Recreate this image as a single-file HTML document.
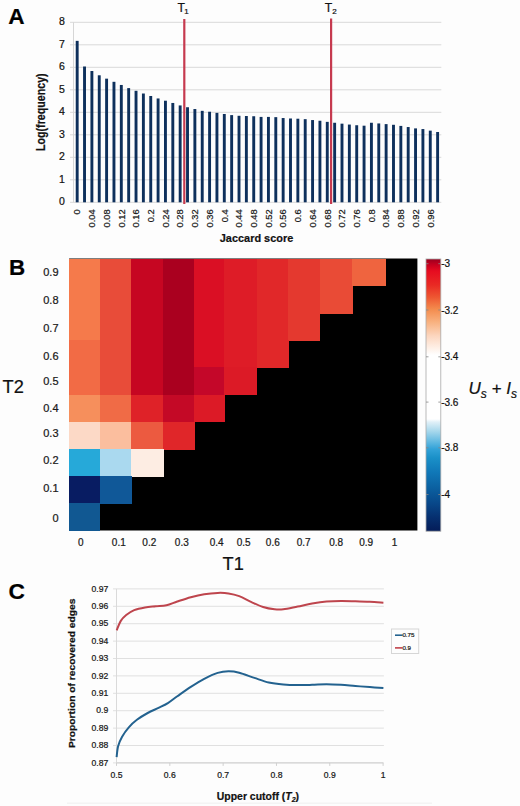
<!DOCTYPE html><html><head><meta charset="utf-8"><style>html,body{margin:0;padding:0;background:#fdfdfd;}svg{display:block;}text{font-family:"Liberation Sans",sans-serif;stroke:#111;stroke-width:0.22px;}</style></head><body>
<svg width="520" height="806" viewBox="0 0 520 806">
<rect width="520" height="806" fill="#fdfdfd"/>
<text x="8.2" y="24.4" font-size="22.6" font-weight="bold" fill="#000" stroke="none">A</text>
<line x1="70" y1="202.30" x2="441.30" y2="202.30" stroke="#d9d9d9" stroke-width="1"/>
<text x="64.8" y="205.10" font-size="10.5" text-anchor="end" fill="#111">0</text>
<line x1="70" y1="179.80" x2="441.30" y2="179.80" stroke="#d9d9d9" stroke-width="1"/>
<text x="64.8" y="182.60" font-size="10.5" text-anchor="end" fill="#111">1</text>
<line x1="70" y1="157.30" x2="441.30" y2="157.30" stroke="#d9d9d9" stroke-width="1"/>
<text x="64.8" y="160.10" font-size="10.5" text-anchor="end" fill="#111">2</text>
<line x1="70" y1="134.80" x2="441.30" y2="134.80" stroke="#d9d9d9" stroke-width="1"/>
<text x="64.8" y="137.60" font-size="10.5" text-anchor="end" fill="#111">3</text>
<line x1="70" y1="112.30" x2="441.30" y2="112.30" stroke="#d9d9d9" stroke-width="1"/>
<text x="64.8" y="115.10" font-size="10.5" text-anchor="end" fill="#111">4</text>
<line x1="70" y1="89.80" x2="441.30" y2="89.80" stroke="#d9d9d9" stroke-width="1"/>
<text x="64.8" y="92.60" font-size="10.5" text-anchor="end" fill="#111">5</text>
<line x1="70" y1="67.30" x2="441.30" y2="67.30" stroke="#d9d9d9" stroke-width="1"/>
<text x="64.8" y="70.10" font-size="10.5" text-anchor="end" fill="#111">6</text>
<line x1="70" y1="44.80" x2="441.30" y2="44.80" stroke="#d9d9d9" stroke-width="1"/>
<text x="64.8" y="47.60" font-size="10.5" text-anchor="end" fill="#111">7</text>
<line x1="70" y1="22.30" x2="441.30" y2="22.30" stroke="#d9d9d9" stroke-width="1"/>
<text x="64.8" y="25.10" font-size="10.5" text-anchor="end" fill="#111">8</text>
<line x1="73.50" y1="22.30" x2="73.50" y2="202.30" stroke="#d6d6d6" stroke-width="1"/>
<rect x="75.73" y="40.86" width="2.9" height="161.44" fill="#0e305c"/>
<rect x="83.08" y="66.51" width="2.9" height="135.79" fill="#0e305c"/>
<rect x="90.44" y="71.01" width="2.9" height="131.29" fill="#0e305c"/>
<rect x="97.80" y="75.29" width="2.9" height="127.01" fill="#0e305c"/>
<rect x="105.15" y="78.66" width="2.9" height="123.64" fill="#0e305c"/>
<rect x="112.51" y="81.81" width="2.9" height="120.49" fill="#0e305c"/>
<rect x="119.86" y="84.96" width="2.9" height="117.34" fill="#0e305c"/>
<rect x="127.22" y="88.11" width="2.9" height="114.19" fill="#0e305c"/>
<rect x="134.58" y="90.81" width="2.9" height="111.49" fill="#0e305c"/>
<rect x="141.93" y="93.51" width="2.9" height="108.79" fill="#0e305c"/>
<rect x="149.29" y="95.99" width="2.9" height="106.31" fill="#0e305c"/>
<rect x="156.64" y="98.46" width="2.9" height="103.84" fill="#0e305c"/>
<rect x="164.00" y="100.71" width="2.9" height="101.59" fill="#0e305c"/>
<rect x="171.36" y="102.96" width="2.9" height="99.34" fill="#0e305c"/>
<rect x="178.71" y="105.44" width="2.9" height="96.86" fill="#0e305c"/>
<rect x="186.07" y="107.24" width="2.9" height="95.06" fill="#0e305c"/>
<rect x="193.42" y="109.04" width="2.9" height="93.26" fill="#0e305c"/>
<rect x="200.78" y="110.84" width="2.9" height="91.46" fill="#0e305c"/>
<rect x="208.14" y="111.74" width="2.9" height="90.56" fill="#0e305c"/>
<rect x="215.49" y="112.86" width="2.9" height="89.44" fill="#0e305c"/>
<rect x="222.85" y="113.99" width="2.9" height="88.31" fill="#0e305c"/>
<rect x="230.20" y="115.11" width="2.9" height="87.19" fill="#0e305c"/>
<rect x="237.56" y="115.79" width="2.9" height="86.51" fill="#0e305c"/>
<rect x="244.92" y="116.01" width="2.9" height="86.29" fill="#0e305c"/>
<rect x="252.27" y="116.24" width="2.9" height="86.06" fill="#0e305c"/>
<rect x="259.63" y="116.91" width="2.9" height="85.39" fill="#0e305c"/>
<rect x="266.98" y="116.91" width="2.9" height="85.39" fill="#0e305c"/>
<rect x="274.34" y="117.14" width="2.9" height="85.16" fill="#0e305c"/>
<rect x="281.70" y="118.04" width="2.9" height="84.26" fill="#0e305c"/>
<rect x="289.05" y="118.49" width="2.9" height="83.81" fill="#0e305c"/>
<rect x="296.41" y="118.71" width="2.9" height="83.59" fill="#0e305c"/>
<rect x="303.76" y="119.16" width="2.9" height="83.14" fill="#0e305c"/>
<rect x="311.12" y="120.06" width="2.9" height="82.24" fill="#0e305c"/>
<rect x="318.48" y="120.74" width="2.9" height="81.56" fill="#0e305c"/>
<rect x="325.83" y="121.86" width="2.9" height="80.44" fill="#0e305c"/>
<rect x="333.19" y="122.76" width="2.9" height="79.54" fill="#0e305c"/>
<rect x="340.54" y="123.66" width="2.9" height="78.64" fill="#0e305c"/>
<rect x="347.90" y="124.56" width="2.9" height="77.74" fill="#0e305c"/>
<rect x="355.26" y="125.24" width="2.9" height="77.06" fill="#0e305c"/>
<rect x="362.61" y="125.69" width="2.9" height="76.61" fill="#0e305c"/>
<rect x="369.97" y="122.76" width="2.9" height="79.54" fill="#0e305c"/>
<rect x="377.32" y="123.44" width="2.9" height="78.86" fill="#0e305c"/>
<rect x="384.68" y="124.11" width="2.9" height="78.19" fill="#0e305c"/>
<rect x="392.04" y="124.79" width="2.9" height="77.51" fill="#0e305c"/>
<rect x="399.39" y="125.91" width="2.9" height="76.39" fill="#0e305c"/>
<rect x="406.75" y="127.04" width="2.9" height="75.26" fill="#0e305c"/>
<rect x="414.10" y="128.39" width="2.9" height="73.91" fill="#0e305c"/>
<rect x="421.46" y="129.06" width="2.9" height="73.24" fill="#0e305c"/>
<rect x="428.82" y="130.64" width="2.9" height="71.66" fill="#0e305c"/>
<rect x="436.17" y="131.99" width="2.9" height="70.31" fill="#0e305c"/>
<rect x="183.2" y="19" width="2.2" height="185" fill="#c63a4f"/>
<rect x="330.0" y="18.5" width="2.2" height="185.5" fill="#c63a4f"/>
<text x="177.5" y="11.6" font-size="12.2" fill="#111">T<tspan font-size="8" dx="-0.7" dy="2.6">1</tspan></text>
<text x="324.8" y="11.6" font-size="12.2" fill="#111">T<tspan font-size="8" dy="2.6">2</tspan></text>
<text transform="translate(80.48,209.4) rotate(-90)" font-size="9.3" text-anchor="end" fill="#222">0</text>
<text transform="translate(95.19,209.4) rotate(-90)" font-size="9.3" text-anchor="end" fill="#222">0.04</text>
<text transform="translate(109.90,209.4) rotate(-90)" font-size="9.3" text-anchor="end" fill="#222">0.08</text>
<text transform="translate(124.61,209.4) rotate(-90)" font-size="9.3" text-anchor="end" fill="#222">0.12</text>
<text transform="translate(139.33,209.4) rotate(-90)" font-size="9.3" text-anchor="end" fill="#222">0.16</text>
<text transform="translate(154.04,209.4) rotate(-90)" font-size="9.3" text-anchor="end" fill="#222">0.2</text>
<text transform="translate(168.75,209.4) rotate(-90)" font-size="9.3" text-anchor="end" fill="#222">0.24</text>
<text transform="translate(183.46,209.4) rotate(-90)" font-size="9.3" text-anchor="end" fill="#222">0.28</text>
<text transform="translate(198.17,209.4) rotate(-90)" font-size="9.3" text-anchor="end" fill="#222">0.32</text>
<text transform="translate(212.89,209.4) rotate(-90)" font-size="9.3" text-anchor="end" fill="#222">0.36</text>
<text transform="translate(227.60,209.4) rotate(-90)" font-size="9.3" text-anchor="end" fill="#222">0.4</text>
<text transform="translate(242.31,209.4) rotate(-90)" font-size="9.3" text-anchor="end" fill="#222">0.44</text>
<text transform="translate(257.02,209.4) rotate(-90)" font-size="9.3" text-anchor="end" fill="#222">0.48</text>
<text transform="translate(271.73,209.4) rotate(-90)" font-size="9.3" text-anchor="end" fill="#222">0.52</text>
<text transform="translate(286.45,209.4) rotate(-90)" font-size="9.3" text-anchor="end" fill="#222">0.56</text>
<text transform="translate(301.16,209.4) rotate(-90)" font-size="9.3" text-anchor="end" fill="#222">0.6</text>
<text transform="translate(315.87,209.4) rotate(-90)" font-size="9.3" text-anchor="end" fill="#222">0.64</text>
<text transform="translate(330.58,209.4) rotate(-90)" font-size="9.3" text-anchor="end" fill="#222">0.68</text>
<text transform="translate(345.29,209.4) rotate(-90)" font-size="9.3" text-anchor="end" fill="#222">0.72</text>
<text transform="translate(360.01,209.4) rotate(-90)" font-size="9.3" text-anchor="end" fill="#222">0.76</text>
<text transform="translate(374.72,209.4) rotate(-90)" font-size="9.3" text-anchor="end" fill="#222">0.8</text>
<text transform="translate(389.43,209.4) rotate(-90)" font-size="9.3" text-anchor="end" fill="#222">0.84</text>
<text transform="translate(404.14,209.4) rotate(-90)" font-size="9.3" text-anchor="end" fill="#222">0.88</text>
<text transform="translate(418.85,209.4) rotate(-90)" font-size="9.3" text-anchor="end" fill="#222">0.92</text>
<text transform="translate(433.57,209.4) rotate(-90)" font-size="9.3" text-anchor="end" fill="#222">0.96</text>
<text transform="translate(219.8,242.2) scale(0.95,1)" font-size="11.5" font-weight="bold" fill="#111">Jaccard score</text>
<text transform="translate(45.0,112.2) rotate(-90) scale(0.89,1)" font-size="12" font-weight="bold" text-anchor="middle" fill="#111">Log(frequency)</text>
<text x="8.9" y="275.4" font-size="22.4" font-weight="bold" fill="#000" stroke="none">B</text>
<rect x="69.10" y="258.50" width="348.30" height="272.00" fill="#000"/>
<g shape-rendering="crispEdges">
<rect x="69.10" y="258.50" width="31.00" height="27.80" fill="#f57a4b"/>
<rect x="99.50" y="258.50" width="32.30" height="27.80" fill="#e84c39"/>
<rect x="131.20" y="258.50" width="32.60" height="27.80" fill="#c60622"/>
<rect x="163.20" y="258.50" width="31.60" height="27.80" fill="#aa001f"/>
<rect x="194.20" y="258.50" width="30.80" height="27.80" fill="#da0f24"/>
<rect x="224.40" y="258.50" width="32.80" height="27.80" fill="#de1c27"/>
<rect x="256.60" y="258.50" width="32.20" height="27.80" fill="#e12829"/>
<rect x="288.20" y="258.50" width="32.10" height="27.80" fill="#e4392f"/>
<rect x="319.70" y="258.50" width="32.80" height="27.80" fill="#e94b36"/>
<rect x="351.90" y="258.50" width="34.40" height="27.80" fill="#ef643f"/>
<rect x="69.10" y="285.70" width="31.00" height="27.80" fill="#f57a4b"/>
<rect x="99.50" y="285.70" width="32.30" height="27.80" fill="#e84c39"/>
<rect x="131.20" y="285.70" width="32.60" height="27.80" fill="#c60622"/>
<rect x="163.20" y="285.70" width="31.60" height="27.80" fill="#aa001f"/>
<rect x="194.20" y="285.70" width="30.80" height="27.80" fill="#da0f24"/>
<rect x="224.40" y="285.70" width="32.80" height="27.80" fill="#de1c27"/>
<rect x="256.60" y="285.70" width="32.20" height="27.80" fill="#e12829"/>
<rect x="288.20" y="285.70" width="32.10" height="27.80" fill="#e4392f"/>
<rect x="319.70" y="285.70" width="32.80" height="27.80" fill="#e94b36"/>
<rect x="69.10" y="312.90" width="31.00" height="27.80" fill="#f57a4b"/>
<rect x="99.50" y="312.90" width="32.30" height="27.80" fill="#e84c39"/>
<rect x="131.20" y="312.90" width="32.60" height="27.80" fill="#c60622"/>
<rect x="163.20" y="312.90" width="31.60" height="27.80" fill="#aa001f"/>
<rect x="194.20" y="312.90" width="30.80" height="27.80" fill="#da0f24"/>
<rect x="224.40" y="312.90" width="32.80" height="27.80" fill="#de1c27"/>
<rect x="256.60" y="312.90" width="32.20" height="27.80" fill="#e12829"/>
<rect x="288.20" y="312.90" width="32.10" height="27.80" fill="#e4392f"/>
<rect x="69.10" y="340.10" width="31.00" height="27.80" fill="#f26b45"/>
<rect x="99.50" y="340.10" width="32.30" height="27.80" fill="#e84c39"/>
<rect x="131.20" y="340.10" width="32.60" height="27.80" fill="#c60622"/>
<rect x="163.20" y="340.10" width="31.60" height="27.80" fill="#aa001f"/>
<rect x="194.20" y="340.10" width="30.80" height="27.80" fill="#da0f24"/>
<rect x="224.40" y="340.10" width="32.80" height="27.80" fill="#de1c27"/>
<rect x="256.60" y="340.10" width="32.20" height="27.80" fill="#e12829"/>
<rect x="69.10" y="367.30" width="31.00" height="27.80" fill="#f26b45"/>
<rect x="99.50" y="367.30" width="32.30" height="27.80" fill="#e84c39"/>
<rect x="131.20" y="367.30" width="32.60" height="27.80" fill="#c60622"/>
<rect x="163.20" y="367.30" width="31.60" height="27.80" fill="#aa001f"/>
<rect x="194.20" y="367.30" width="30.80" height="27.80" fill="#c40729"/>
<rect x="224.40" y="367.30" width="32.80" height="27.80" fill="#dc1a26"/>
<rect x="69.10" y="394.50" width="31.00" height="27.80" fill="#f68f5c"/>
<rect x="99.50" y="394.50" width="32.30" height="27.80" fill="#f06b46"/>
<rect x="131.20" y="394.50" width="32.60" height="27.80" fill="#df2228"/>
<rect x="163.20" y="394.50" width="31.60" height="27.80" fill="#c40926"/>
<rect x="194.20" y="394.50" width="30.80" height="27.80" fill="#dc1a26"/>
<rect x="69.10" y="421.70" width="31.00" height="27.80" fill="#fcd9c6"/>
<rect x="99.50" y="421.70" width="32.30" height="27.80" fill="#fbbe9e"/>
<rect x="131.20" y="421.70" width="32.60" height="27.80" fill="#ec5a40"/>
<rect x="163.20" y="421.70" width="31.60" height="27.80" fill="#e02629"/>
<rect x="69.10" y="448.90" width="31.00" height="27.80" fill="#26a9d9"/>
<rect x="99.50" y="448.90" width="32.30" height="27.80" fill="#aad9ef"/>
<rect x="131.20" y="448.90" width="32.60" height="27.80" fill="#fdede3"/>
<rect x="69.10" y="476.10" width="31.00" height="27.80" fill="#081c62"/>
<rect x="99.50" y="476.10" width="32.30" height="27.80" fill="#105898"/>
<rect x="69.10" y="503.30" width="31.00" height="27.80" fill="#115892"/>
</g>
<text x="58.5" y="275.70" font-size="11" text-anchor="end" fill="#222">0.9</text>
<text x="58.5" y="304.20" font-size="11" text-anchor="end" fill="#222">0.8</text>
<text x="58.5" y="331.80" font-size="11" text-anchor="end" fill="#222">0.7</text>
<text x="58.5" y="360.00" font-size="11" text-anchor="end" fill="#222">0.6</text>
<text x="58.5" y="384.80" font-size="11" text-anchor="end" fill="#222">0.5</text>
<text x="58.5" y="411.70" font-size="11" text-anchor="end" fill="#222">0.4</text>
<text x="58.5" y="436.90" font-size="11" text-anchor="end" fill="#222">0.3</text>
<text x="58.5" y="463.50" font-size="11" text-anchor="end" fill="#222">0.2</text>
<text x="58.5" y="491.70" font-size="11" text-anchor="end" fill="#222">0.1</text>
<text x="58.5" y="522.10" font-size="11" text-anchor="end" fill="#222">0</text>
<text transform="translate(2.6,392.9) scale(0.95,1)" font-size="19.2" fill="#111">T2</text>
<text x="80.80" y="545.8" font-size="10" text-anchor="middle" fill="#222">0</text>
<text x="118.80" y="545.8" font-size="10" text-anchor="middle" fill="#222">0.1</text>
<text x="149.30" y="545.8" font-size="10" text-anchor="middle" fill="#222">0.2</text>
<text x="181.80" y="545.8" font-size="10" text-anchor="middle" fill="#222">0.3</text>
<text x="216.70" y="545.8" font-size="10" text-anchor="middle" fill="#222">0.4</text>
<text x="243.60" y="545.8" font-size="10" text-anchor="middle" fill="#222">0.5</text>
<text x="272.80" y="545.8" font-size="10" text-anchor="middle" fill="#222">0.6</text>
<text x="303.60" y="545.8" font-size="10" text-anchor="middle" fill="#222">0.7</text>
<text x="336.20" y="545.8" font-size="10" text-anchor="middle" fill="#222">0.8</text>
<text x="366.20" y="545.8" font-size="10" text-anchor="middle" fill="#222">0.9</text>
<text x="394.60" y="545.8" font-size="10" text-anchor="middle" fill="#222">1</text>
<text transform="translate(222.6,570.3) scale(0.95,1)" font-size="19.2" fill="#111">T1</text>
<defs><linearGradient id="cb" x1="0" y1="0" x2="0" y2="1">
<stop offset="0.0000" stop-color="#9a001f"/>
<stop offset="0.0220" stop-color="#c8001f"/>
<stop offset="0.0441" stop-color="#e60c20"/>
<stop offset="0.0955" stop-color="#e92a24"/>
<stop offset="0.1396" stop-color="#ee5631"/>
<stop offset="0.1837" stop-color="#f38b4d"/>
<stop offset="0.2314" stop-color="#f8b17f"/>
<stop offset="0.2829" stop-color="#fcd6bf"/>
<stop offset="0.3270" stop-color="#fef0e7"/>
<stop offset="0.3527" stop-color="#ffffff"/>
<stop offset="0.5878" stop-color="#ffffff"/>
<stop offset="0.5988" stop-color="#e0f0f8"/>
<stop offset="0.6319" stop-color="#a8d8ec"/>
<stop offset="0.6712" stop-color="#62b9e1"/>
<stop offset="0.6980" stop-color="#32a2d8"/>
<stop offset="0.7311" stop-color="#1a90c8"/>
<stop offset="0.7825" stop-color="#1078b8"/>
<stop offset="0.8413" stop-color="#0b60a0"/>
<stop offset="0.8964" stop-color="#08488a"/>
<stop offset="0.9478" stop-color="#063070"/>
<stop offset="1.0000" stop-color="#041c58"/>
</linearGradient></defs>
<rect x="426" y="259" width="14.8" height="272.2" fill="url(#cb)"/>
<rect x="426" y="259" width="14.8" height="272.2" fill="none" stroke="#a8a8a8" stroke-width="0.8"/>
<text x="441.2" y="267.20" font-size="10" fill="#111" stroke="#111" stroke-width="0.2">-3</text>
<line x1="426" y1="263.70" x2="428.5" y2="263.70" stroke="#888" stroke-width="0.8"/>
<line x1="438.3" y1="263.70" x2="440.8" y2="263.70" stroke="#888" stroke-width="0.8"/>
<text x="441.2" y="313.50" font-size="10" fill="#111" stroke="#111" stroke-width="0.2">-3.2</text>
<line x1="426" y1="310.00" x2="428.5" y2="310.00" stroke="#888" stroke-width="0.8"/>
<line x1="438.3" y1="310.00" x2="440.8" y2="310.00" stroke="#888" stroke-width="0.8"/>
<text x="441.2" y="360.30" font-size="10" fill="#111" stroke="#111" stroke-width="0.2">-3.4</text>
<line x1="426" y1="356.80" x2="428.5" y2="356.80" stroke="#888" stroke-width="0.8"/>
<line x1="438.3" y1="356.80" x2="440.8" y2="356.80" stroke="#888" stroke-width="0.8"/>
<text x="441.2" y="405.60" font-size="10" fill="#111" stroke="#111" stroke-width="0.2">-3.6</text>
<line x1="426" y1="402.10" x2="428.5" y2="402.10" stroke="#888" stroke-width="0.8"/>
<line x1="438.3" y1="402.10" x2="440.8" y2="402.10" stroke="#888" stroke-width="0.8"/>
<text x="441.2" y="451.30" font-size="10" fill="#111" stroke="#111" stroke-width="0.2">-3.8</text>
<line x1="426" y1="447.80" x2="428.5" y2="447.80" stroke="#888" stroke-width="0.8"/>
<line x1="438.3" y1="447.80" x2="440.8" y2="447.80" stroke="#888" stroke-width="0.8"/>
<text x="441.2" y="498.00" font-size="10" fill="#111" stroke="#111" stroke-width="0.2">-4</text>
<line x1="426" y1="494.50" x2="428.5" y2="494.50" stroke="#888" stroke-width="0.8"/>
<line x1="438.3" y1="494.50" x2="440.8" y2="494.50" stroke="#888" stroke-width="0.8"/>
<text x="468.5" y="393.8" font-size="17" font-style="italic" fill="#111">U<tspan font-size="12" dy="4.5">s</tspan><tspan dy="-4.5"> + I</tspan><tspan font-size="12" dy="4.5">s</tspan></text>
<text x="8.4" y="599.4" font-size="22.8" font-weight="bold" fill="#000" stroke="none">C</text>
<line x1="113" y1="762.90" x2="383.90" y2="762.90" stroke="#e0e0e0" stroke-width="1"/>
<text x="108.3" y="765.50" font-size="8.6" text-anchor="end" fill="#222">0.87</text>
<line x1="113" y1="745.50" x2="383.90" y2="745.50" stroke="#e0e0e0" stroke-width="1"/>
<text x="108.3" y="748.10" font-size="8.6" text-anchor="end" fill="#222">0.88</text>
<line x1="113" y1="728.10" x2="383.90" y2="728.10" stroke="#e0e0e0" stroke-width="1"/>
<text x="108.3" y="730.70" font-size="8.6" text-anchor="end" fill="#222">0.89</text>
<line x1="113" y1="710.70" x2="383.90" y2="710.70" stroke="#e0e0e0" stroke-width="1"/>
<text x="108.3" y="713.30" font-size="8.6" text-anchor="end" fill="#222">0.9</text>
<line x1="113" y1="693.30" x2="383.90" y2="693.30" stroke="#e0e0e0" stroke-width="1"/>
<text x="108.3" y="695.90" font-size="8.6" text-anchor="end" fill="#222">0.91</text>
<line x1="113" y1="675.90" x2="383.90" y2="675.90" stroke="#e0e0e0" stroke-width="1"/>
<text x="108.3" y="678.50" font-size="8.6" text-anchor="end" fill="#222">0.92</text>
<line x1="113" y1="658.50" x2="383.90" y2="658.50" stroke="#e0e0e0" stroke-width="1"/>
<text x="108.3" y="661.10" font-size="8.6" text-anchor="end" fill="#222">0.93</text>
<line x1="113" y1="641.10" x2="383.90" y2="641.10" stroke="#e0e0e0" stroke-width="1"/>
<text x="108.3" y="643.70" font-size="8.6" text-anchor="end" fill="#222">0.94</text>
<line x1="113" y1="623.70" x2="383.90" y2="623.70" stroke="#e0e0e0" stroke-width="1"/>
<text x="108.3" y="626.30" font-size="8.6" text-anchor="end" fill="#222">0.95</text>
<line x1="113" y1="606.30" x2="383.90" y2="606.30" stroke="#e0e0e0" stroke-width="1"/>
<text x="108.3" y="608.90" font-size="8.6" text-anchor="end" fill="#222">0.96</text>
<line x1="113" y1="588.90" x2="383.90" y2="588.90" stroke="#e0e0e0" stroke-width="1"/>
<text x="108.3" y="591.50" font-size="8.6" text-anchor="end" fill="#222">0.97</text>
<line x1="116.50" y1="588.90" x2="116.50" y2="762.90" stroke="#dadada" stroke-width="1"/>
<line x1="116.50" y1="762.90" x2="383.10" y2="762.90" stroke="#d0d0d0" stroke-width="1"/>
<line x1="116.50" y1="762.90" x2="116.50" y2="765.90" stroke="#d0d0d0" stroke-width="1"/>
<text x="116.50" y="778" font-size="8.6" text-anchor="middle" fill="#222">0.5</text>
<line x1="169.82" y1="762.90" x2="169.82" y2="765.90" stroke="#d0d0d0" stroke-width="1"/>
<text x="169.82" y="778" font-size="8.6" text-anchor="middle" fill="#222">0.6</text>
<line x1="223.14" y1="762.90" x2="223.14" y2="765.90" stroke="#d0d0d0" stroke-width="1"/>
<text x="223.14" y="778" font-size="8.6" text-anchor="middle" fill="#222">0.7</text>
<line x1="276.46" y1="762.90" x2="276.46" y2="765.90" stroke="#d0d0d0" stroke-width="1"/>
<text x="276.46" y="778" font-size="8.6" text-anchor="middle" fill="#222">0.8</text>
<line x1="329.78" y1="762.90" x2="329.78" y2="765.90" stroke="#d0d0d0" stroke-width="1"/>
<text x="329.78" y="778" font-size="8.6" text-anchor="middle" fill="#222">0.9</text>
<line x1="383.10" y1="762.90" x2="383.10" y2="765.90" stroke="#d0d0d0" stroke-width="1"/>
<text x="383.10" y="778" font-size="8.6" text-anchor="middle" fill="#222">1</text>
<path d="M116.70,629.80 C117.38,628.23 119.22,622.95 120.80,620.40 C122.38,617.85 123.97,616.30 126.20,614.50 C128.43,612.70 131.07,610.87 134.20,609.60 C137.33,608.33 141.40,607.53 145.00,606.90 C148.60,606.27 152.22,606.15 155.80,605.80 C159.38,605.45 162.92,605.60 166.50,604.80 C170.08,604.00 173.25,602.35 177.30,601.00 C181.35,599.65 186.32,597.92 190.80,596.70 C195.28,595.48 199.72,594.42 204.20,593.70 C208.68,592.98 213.65,592.53 217.70,592.40 C221.75,592.27 224.92,592.37 228.50,592.90 C232.08,593.43 235.37,594.15 239.20,595.60 C243.03,597.05 247.52,599.78 251.50,601.60 C255.48,603.42 259.25,605.30 263.10,606.50 C266.95,607.70 271.23,608.42 274.60,608.80 C277.97,609.18 279.45,609.27 283.30,608.80 C287.15,608.33 292.90,606.95 297.70,606.00 C302.50,605.05 307.30,603.92 312.10,603.10 C316.90,602.28 321.68,601.53 326.50,601.10 C331.32,600.67 336.18,600.55 341.00,600.50 C345.82,600.45 350.60,600.67 355.40,600.80 C360.20,600.93 365.13,601.07 369.80,601.30 C374.47,601.53 381.13,602.05 383.40,602.20" fill="none" stroke="#be454d" stroke-width="2" transform="translate(0,0.5)"/>
<path d="M116.60,757.20 C116.85,755.37 117.18,749.62 118.10,746.20 C119.02,742.78 120.32,739.85 122.10,736.70 C123.88,733.55 126.33,730.12 128.80,727.30 C131.27,724.48 133.75,722.18 136.90,719.80 C140.05,717.42 144.10,714.98 147.70,713.00 C151.30,711.02 155.13,709.55 158.50,707.90 C161.87,706.25 164.77,705.03 167.90,703.10 C171.03,701.17 173.48,699.00 177.30,696.30 C181.12,693.60 186.32,689.82 190.80,686.90 C195.28,683.98 199.72,681.13 204.20,678.80 C208.68,676.47 213.65,674.15 217.70,672.90 C221.75,671.65 224.92,671.33 228.50,671.30 C232.08,671.27 234.88,671.60 239.20,672.70 C243.52,673.80 249.47,676.27 254.40,677.90 C259.33,679.53 263.98,681.40 268.80,682.50 C273.62,683.60 278.48,684.07 283.30,684.50 C288.12,684.93 292.90,685.05 297.70,685.10 C302.50,685.15 307.30,684.95 312.10,684.80 C316.90,684.65 321.68,684.20 326.50,684.20 C331.32,684.20 336.18,684.50 341.00,684.80 C345.82,685.10 350.60,685.62 355.40,686.00 C360.20,686.38 365.13,686.77 369.80,687.10 C374.47,687.43 381.13,687.85 383.40,688.00" fill="none" stroke="#23628f" stroke-width="2"/>
<text transform="translate(75.3,673.3) rotate(-90) scale(1.07,1)" font-size="9.6" font-weight="bold" text-anchor="middle" fill="#111">Proportion of recovered edges</text>
<text transform="translate(216.8,799.6) scale(0.95,1)" font-size="11" font-weight="bold" fill="#111">Upper cutoff (<tspan font-style="italic">T</tspan><tspan font-style="italic" font-size="7.5" dy="2">2</tspan><tspan dy="-2">)</tspan></text>
<rect x="391.5" y="629" width="27.2" height="24.5" fill="none" stroke="#d6d6d6" stroke-width="1"/>
<line x1="395" y1="635.2" x2="402.6" y2="635.2" stroke="#23628f" stroke-width="1.6"/>
<line x1="395" y1="647.9" x2="402.6" y2="647.9" stroke="#c0414a" stroke-width="1.6"/>
<text x="402.4" y="637.4" font-size="6.2" fill="#333">0.75</text>
<text x="402.4" y="650.1" font-size="6.2" fill="#333">0.9</text>
<line x1="67" y1="803.2" x2="432" y2="803.2" stroke="#efefef" stroke-width="1"/>
</svg></body></html>
